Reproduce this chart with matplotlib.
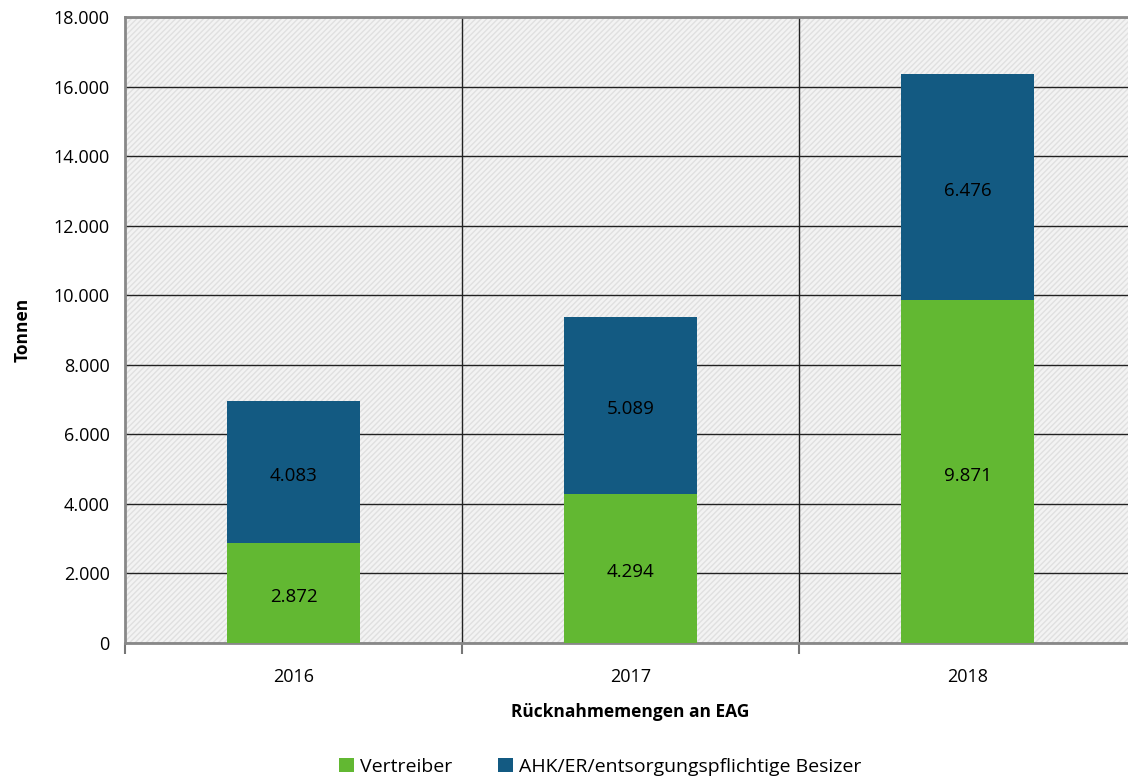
import numpy as np
import matplotlib.pyplot as plt
from matplotlib.patches import Rectangle
from matplotlib.ticker import FuncFormatter

years = ['2016', '2017', '2018']
vertreiber = [2872, 4294, 9871]
ahk = [4083, 5089, 6476]

plt.rcParams['font.family'] = ['Open Sans', 'DejaVu Sans']

fig = plt.figure(figsize=(11.28, 7.8), dpi=100)
ax = fig.add_axes([125/1128, 1-643/780, 1011/1128, 626/780])

# hatched grey background
ax.set_facecolor('#f3f3f3')
bg = Rectangle((0, 0), 1, 1, transform=ax.transAxes, facecolor='none',
               edgecolor='#e0e0e0', hatch='//////', linewidth=0, zorder=0)
ax.add_patch(bg)

x = np.arange(len(years))
width = 0.395
green = '#62b832'
blue = '#135a82'

ax.bar(x, vertreiber, width, color=green, label='Vertreiber', zorder=3)
ax.bar(x, ahk, width, bottom=vertreiber, color=blue,
       label='AHK/ER/entsorgungspflichtige Besizer', zorder=3)

fmt = lambda v: f'{v:,.0f}'.replace(',', '.')
for i in range(len(years)):
    ax.annotate(fmt(vertreiber[i]), (x[i], vertreiber[i]/2), xytext=(0, -3),
                textcoords='offset points', ha='center', va='center',
                fontsize=13.5, color='black', zorder=4)
    ax.annotate(fmt(ahk[i]), (x[i], vertreiber[i] + ahk[i]/2), xytext=(0, -3),
                textcoords='offset points', ha='center', va='center',
                fontsize=13.5, color='black', zorder=4)

ax.set_xlim(-0.5, 2.5)
ax.set_ylim(0, 18000)
ax.set_yticks(np.arange(0, 18001, 2000))
ax.yaxis.set_major_formatter(FuncFormatter(lambda v, p: fmt(v)))
ax.set_xticks(x)
ax.set_xticklabels(years)
ax.set_xticks([-0.5, 0.5, 1.5, 2.5], minor=True)

ax.grid(axis='y', color='#222222', linewidth=1.0, zorder=1)
for b in [0.5, 1.5]:
    ax.axvline(b, color='#222222', linewidth=1.0, zorder=1)

ax.tick_params(axis='x', which='major', length=0, labelsize=13, pad=18)
ax.tick_params(axis='x', which='minor', length=8, width=1.5, color='#777777', direction='out')
ax.tick_params(axis='y', length=0, labelsize=13, pad=11)

for s in ['left', 'top', 'bottom']:
    ax.spines[s].set_color('#888888')
    ax.spines[s].set_linewidth(2)
ax.spines['right'].set_visible(False)

ax.set_ylabel('Tonnen', fontsize=12.5, fontweight='bold', labelpad=16)
ax.set_xlabel('Rücknahmemengen an EAG', fontsize=12.5, fontweight='bold', labelpad=12)

ax.legend(loc='upper center', bbox_to_anchor=(0.47, -0.155), ncol=2, frameon=False,
          fontsize=14, handlelength=0.75, handleheight=0.75, handletextpad=0.3,
          columnspacing=2.4)

fig.savefig('out.png', dpi=100)
